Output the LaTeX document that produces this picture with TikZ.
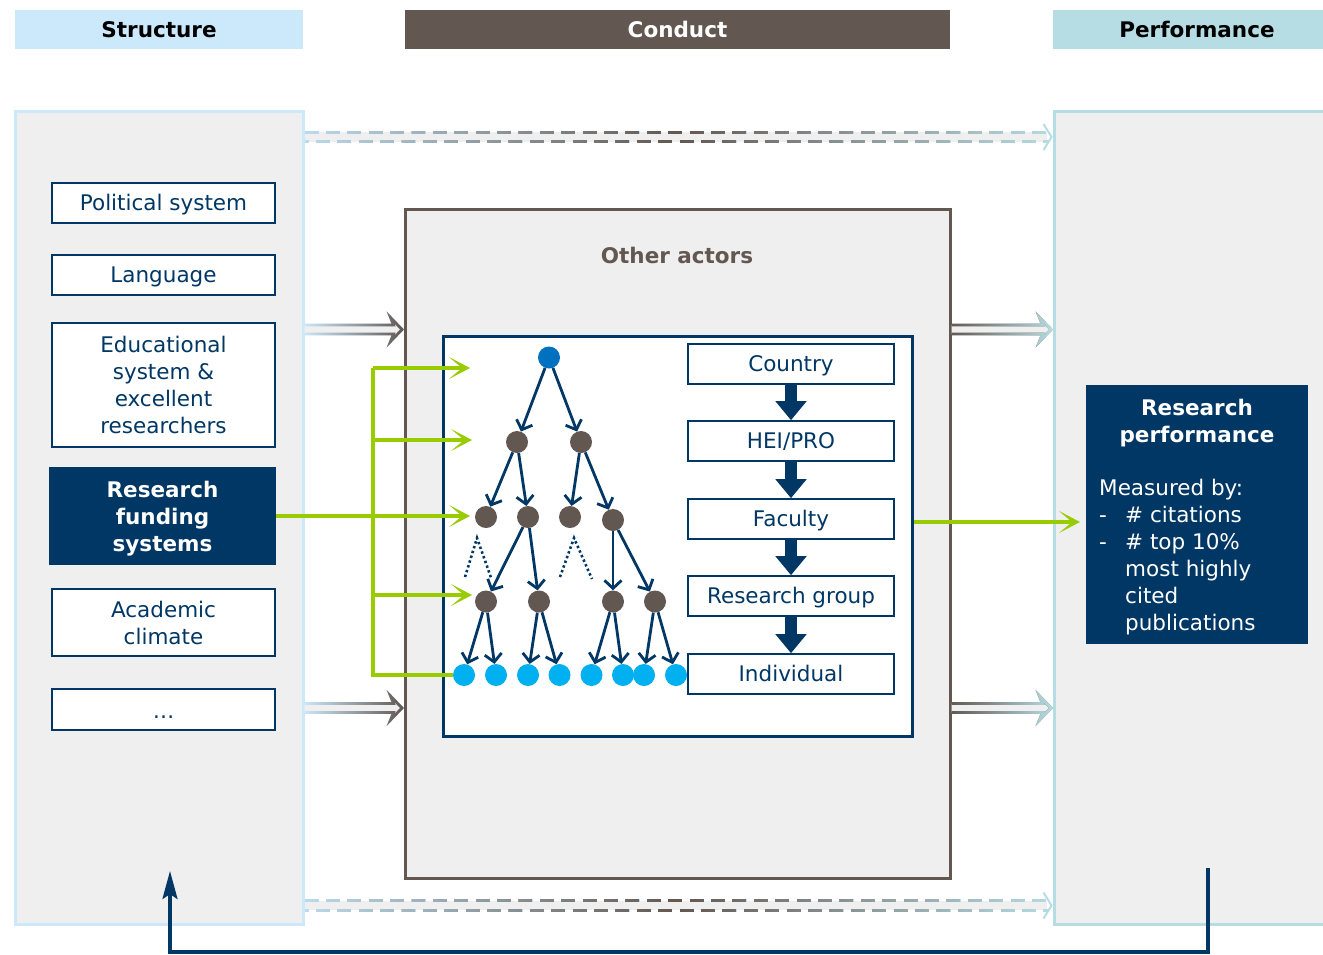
\documentclass[tikz,border=0pt]{standalone}
\usepackage{fontspec}
\setmainfont{DejaVu Sans}
\usetikzlibrary{arrows.meta,fadings}

\definecolor{navy}{HTML}{003764}
\definecolor{taupe}{HTML}{635751}
\definecolor{skyhead}{HTML}{CCE9FC}
\definecolor{skyline}{HTML}{BDDCF0}
\definecolor{tealhead}{HTML}{B6DDE3}
\definecolor{panelgrey}{HTML}{EFEFEF}
\definecolor{lime}{HTML}{99CC00}
\definecolor{rootblue}{HTML}{0070C0}
\definecolor{leafblue}{HTML}{00B0F0}

\tikzfading[name=fade in east, left color=transparent!100, right color=transparent!0]
\tikzfading[name=fade mid, left color=transparent!100, right color=transparent!100, middle color=transparent!0]

\tikzset{>=Stealth,
  head/.style={minimum height=39pt, inner sep=0pt, font=\fontsize{21.5}{27}\selectfont\bfseries},
  panel/.style={fill=panelgrey, line width=3pt, inner sep=0pt},
  sbox/.style={draw=navy, line width=1.6pt, fill=white, text=navy, minimum width=223pt, align=center, inner sep=0pt},
  oneline/.style={text height=19pt, text depth=4pt},
  lvlbox/.style={draw=navy, line width=1.6pt, fill=white, text=navy, minimum width=206pt, minimum height=40pt, inner sep=0pt, oneline},
  dot/.style={circle, inner sep=0pt, minimum size=22pt},
  tarrow/.style={draw=navy, line width=2.8pt, -{Straight Barb[length=8pt,width=17pt]}},
  garrow/.style={draw=lime, line width=3.4pt, -{Stealth[length=21pt,width=22pt,inset=13pt]}},
  gline/.style={draw=lime, line width=3.4pt},
  blockarrow/.style={draw=navy, line width=12pt, -{Triangle[length=19pt,width=30pt]}}
}

% open arrow with a colour gradient: from, to, left colour, right colour
\newcommand\openarrow[4]{%
  \draw[line width=2.8pt, #3, fill=panelgrey,
        postaction={draw=#4, path fading=fade in east}]
    ([yshift=4.5pt]#1) -- ([xshift=-10pt,yshift=4.5pt]#2) -- ([xshift=-13pt,yshift=12pt]#2)
    -- ([xshift=-1.5pt]#2) -- ([xshift=-13pt,yshift=-12pt]#2) -- ([xshift=-10pt,yshift=-4.5pt]#2)
    -- ([yshift=-4.5pt]#1);}

% long dashed arrow between the outer panels
\newcommand\dasharrow[2]{%
  \fill[panelgrey] ([yshift=4.75pt]#1) rectangle ([xshift=-6pt,yshift=-4.75pt]#2);
  \foreach \s/\ph in {4.75/0, -4.75/10}
    \draw[skyline, line width=3pt, dash pattern=on 14pt off 7.4pt, dash phase=\ph pt,
          postaction={draw=tealhead, path fading=fade in east},
          postaction={draw=taupe, path fading=fade mid}]
      ([yshift=12pt]#1) ([yshift=\s pt]#1) -- ([xshift=-4pt,yshift=\s pt]#2) ([xshift=-4pt,yshift=-12pt]#2);
  \draw[tealhead, line width=2pt] ([xshift=-9pt,yshift=13pt]#2) -- ([xshift=-1pt]#2) -- ([xshift=-9pt,yshift=-13pt]#2);}

\begin{document}
\begin{tikzpicture}[x=1pt, y=-1pt, font=\fontsize{21.5}{27}\selectfont]
  \useasboundingbox (0,0) rectangle (1323,954);

  % headers
  \node[head, fill=skyhead, minimum width=288pt] (hstruct) at (159,29.5) {Structure};
  \node[head, fill=taupe, text=white, minimum width=545pt] (hcond) at (677.5,29.5) {Conduct};
  \node[head, fill=tealhead, minimum width=288pt] (hperf) at (1197,29.5) {Performance};

  % panels
  \node[panel, draw=skyhead, minimum width=288pt, minimum height=813pt] (lp) at (159,517.5) {};
  \node[panel, draw=tealhead, minimum width=288pt, minimum height=813pt] (rp) at (1198,517.5) {};
  \node[panel, draw=taupe, minimum width=545pt, minimum height=669pt] (mid) at (677.5,543.5) {};
  \node[font=\fontsize{21.5}{27}\selectfont\bfseries, text=taupe] (other) at (677,255) {Other actors};

  % arrows between the panels
  \coordinate (ta) at (lp.east |- 0,137);
  \coordinate (tb) at (rp.west |- 0,137);
  \coordinate (ba) at (lp.east |- 0,905.5);
  \coordinate (bb) at (rp.west |- 0,905.5);
  \dasharrow{ta}{tb}
  \dasharrow{ba}{bb}
  \foreach \y [count=\i] in {329.5, 708} {
    \coordinate (la\i) at (lp.east |- 0,\y);
    \coordinate (lb\i) at (mid.west |- 0,\y);
    \coordinate (ra\i) at (mid.east |- 0,\y);
    \coordinate (rb\i) at (rp.west |- 0,\y);
    \openarrow{la\i}{lb\i}{skyhead}{taupe}
    \openarrow{ra\i}{rb\i}{taupe}{tealhead}
  }

  % structure
  \node[sbox, oneline, minimum height=40pt] (political) at (163.5,203) {Political system};
  \node[sbox, oneline, minimum height=40pt] (language) at (163.5,275) {Language};
  \node[sbox, minimum height=124pt] (education) at (163.5,385) {Educational\\system \&\\excellent\\researchers};
  \node[sbox, fill=navy, text=white, font=\fontsize{21.5}{27}\selectfont\bfseries, minimum width=225pt, minimum height=96pt, text depth=-8pt] (funding) at (162.5,516) {Research\\funding\\systems};
  \node[sbox, minimum height=67pt, text depth=-4pt] (climate) at (163.5,622.5) {Academic\\climate};
  \node[sbox, oneline, minimum height=41pt, text height=21pt] (more) at (163.5,709.5) {\dots};

  % conduct
  \node[draw=navy, line width=3pt, fill=white, minimum width=469pt, minimum height=400pt, inner sep=0pt] (inner) at (677.5,536) {};

  \node[lvlbox] (country) at (791,364) {Country};
  \node[lvlbox] (hei) at (791,441) {HEI/PRO};
  \node[lvlbox] (faculty) at (791,519) {Faculty};
  \node[lvlbox] (group) at (791,596) {Research group};
  \node[lvlbox] (indiv) at (791,674) {Individual};
  \foreach \a/\b in {country/hei, hei/faculty, faculty/group, group/indiv}
    \draw[blockarrow] (\a) -- (\b);

  \node[dot, fill=rootblue] (r) at (549,357.5) {};
  \node[dot, fill=taupe] (a1) at (517,442) {};
  \node[dot, fill=taupe] (a2) at (581,442) {};
  \node[dot, fill=taupe] (b1) at (486,517) {};
  \node[dot, fill=taupe] (b2) at (528,517) {};
  \node[dot, fill=taupe] (b3) at (570,517) {};
  \node[dot, fill=taupe] (b4) at (613,520) {};
  \node[dot, fill=taupe] (c1) at (486,601.5) {};
  \node[dot, fill=taupe] (c2) at (539,601.5) {};
  \node[dot, fill=taupe] (c3) at (613,601.5) {};
  \node[dot, fill=taupe] (c4) at (655,601.5) {};
  \foreach \x [count=\i] in {464,496,528,559.5,591.5,623,644,676}
    \node[dot, fill=leafblue] (d\i) at (\x,675) {};

  \foreach \p/\c in {r/a1, r/a2, a1/b1, a1/b2, a2/b3, a2/b4, b2/c1, b2/c2, b4/c3, b4/c4,
                     c1/d1, c1/d2, c2/d3, c2/d4, c3/d5, c3/d6, c4/d7, c4/d8}
    \draw[tarrow] (\p) -- (\c);

  \coordinate (dl) at (477,538);
  \coordinate (dl1) at (465,577);
  \coordinate (dl2) at (491.5,579);
  \coordinate (dr) at (574,538);
  \coordinate (dr1) at (560,577);
  \coordinate (dr2) at (592,579);
  \draw[navy, line width=2.6pt, dash pattern=on 2.4pt off 2.6pt] (dl1) -- (dl) -- (dl2);
  \draw[navy, line width=2.6pt, dash pattern=on 2.4pt off 2.6pt] (dr1) -- (dr) -- (dr2);

  % funding reaches every level
  \coordinate (bus) at (373,516);
  \coordinate (g1) at (470,368);
  \coordinate (g2) at (472,440);
  \coordinate (g3) at (470,516);
  \coordinate (g4) at (472,595);
  \draw[garrow] (funding.east) -- (g3);
  \draw[gline] (bus |- g1) -- (bus |- d1) -- (d1);
  \foreach \g in {g1,g2,g4}
    \draw[garrow] (bus |- \g) -- (\g);

  % performance
  \node[fill=navy, minimum width=222pt, minimum height=259pt, inner sep=0pt] (perf) at (1197,514.5) {};
  \node[text=white, font=\fontsize{21.5}{27}\selectfont\bfseries, align=center] (perftitle) at (1197,423) {Research\\performance};
  \node[text=white, align=left, anchor=north west, inner sep=0pt] (measure) at (1099,479)
    {Measured by:\\
     \makebox[26pt][l]{-}\# citations\\
     \makebox[26pt][l]{-}\# top 10\%\\
     \hspace*{26pt}most highly\\
     \hspace*{26pt}cited\\
     \hspace*{26pt}publications};
  \coordinate (gp) at (1080,522);
  \draw[garrow] (inner.east |- gp) -- (gp);

  % feedback loop
  \coordinate (fb1) at (1208,868);
  \coordinate (fb2) at (170,871);
  \draw[navy, line width=3.4pt, -{Stealth[length=28pt,width=15pt,inset=5pt]}] (fb1) -- (fb1 |- 0,952) -| (fb2);
\end{tikzpicture}
\end{document}
